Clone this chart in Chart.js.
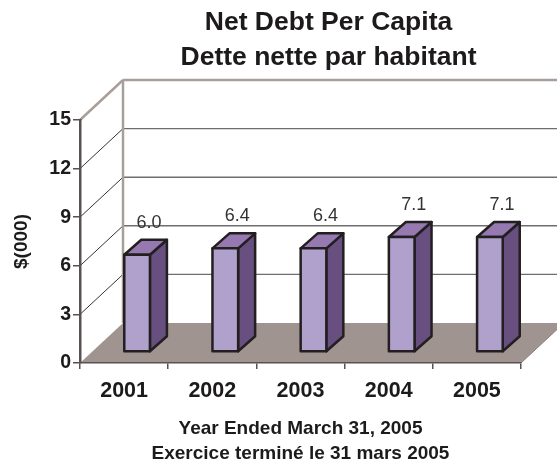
<!DOCTYPE html>
<html lang="en">

<head>
    <meta charset="UTF-8">
    <title>Net Debt Per Capita</title>
    <script src="https://cdn.jsdelivr.net/npm/chart.js"></script>
    <style>
        body {
            margin: 0;
            background: #fff;
        }

        canvas {
            display: block;
        }
    </style>
</head>

<body>
    <canvas id="debtChart" width="557" height="464"></canvas>

    <script>
        const years = ['2001', '2002', '2003', '2004', '2005'];
        const netDebt = [6.0, 6.4, 6.4, 7.1, 7.1];
        const titleLines = ['Net Debt Per Capita', 'Dette nette par habitant'];
        const xTitleLines = ['Year Ended March 31, 2005', 'Exercice terminé le 31 mars 2005'];

        const FONT = '"Liberation Sans", Arial, sans-serif';
        const EDGE = '#231f20';

        // Depth of the box behind the axes, of the bar bodies, and how far
        // the bars sit inside the box
        const wallDepth = { x: 43, y: -40 };
        const barDepth = { x: 17, y: -15 };
        const barInset = { x: 13, y: -11 };

        function polygon(ctx, points, fill, stroke) {
            ctx.beginPath();
            points.forEach(([x, y], i) => i ? ctx.lineTo(x, y) : ctx.moveTo(x, y));
            ctx.closePath();
            ctx.fillStyle = fill;
            ctx.fill();
            if (stroke) {
                ctx.strokeStyle = stroke;
                ctx.lineWidth = 2.5;
                ctx.lineJoin = 'round';
                ctx.stroke();
            }
        }

        function line(ctx, x1, y1, x2, y2, color, width) {
            ctx.beginPath();
            ctx.moveTo(x1, y1);
            ctx.lineTo(x2, y2);
            ctx.strokeStyle = color;
            ctx.lineWidth = width;
            ctx.stroke();
        }

        // Floor, back wall and the gridlines that run around the side wall
        const box3d = {
            id: 'box3d',
            afterLayout(chart) {
                // Title sits over the box, right of the canvas centre
                chart.titleBlock.left += 68;
                chart.titleBlock.right += 68;
            },
            beforeDraw(chart) {
                const { ctx, scales: { x, y } } = chart;
                const left = x.left, right = x.right;
                const dx = wallDepth.x, dy = wallDepth.y;
                const y0 = y.getPixelForValue(0);
                const yTop = y.getPixelForValue(15);

                ctx.save();
                polygon(ctx, [[left, y0], [left + dx, y0 + dy], [right + dx, y0 + dy], [right, y0]], '#a09490');

                y.ticks.forEach(t => {
                    if (t.value === 0 || t.value === 15) return;
                    const py = y.getPixelForValue(t.value);
                    line(ctx, left, py, left + dx, py + dy, '#333', 1);
                    line(ctx, left + dx, py + dy, right + dx, py + dy, '#6e6e6e', 1.4);
                });

                // Top and rear edges of the box
                line(ctx, left, yTop, left + dx, yTop + dy, '#a89e9a', 2.5);
                line(ctx, left + dx, yTop + dy, right + dx, yTop + dy, '#a89e9a', 2.5);
                line(ctx, left + dx, yTop + dy, left + dx, y0 + dy, '#a89e9a', 2.5);
                line(ctx, right, y0, right + dx, y0 + dy, '#8a807c', 1);
                ctx.restore();
            },
            beforeDatasetsDraw(chart) {
                chart.ctx.save();
                chart.ctx.translate(barInset.x, barInset.y);
            },
            afterDatasetsDraw(chart) {
                const ctx = chart.ctx;
                const dx = barDepth.x, dy = barDepth.y;
                chart.getDatasetMeta(0).data.forEach((bar, i) => {
                    const l = bar.x - bar.width / 2;
                    const r = bar.x + bar.width / 2;
                    const top = bar.y;
                    const bottom = bar.base;

                    polygon(ctx, [[r, top], [r + dx, top + dy], [r + dx, bottom + dy], [r, bottom]], '#674f80', EDGE);
                    polygon(ctx, [[l, top], [l + dx, top + dy], [r + dx, top + dy], [r, top]], '#9679b0', EDGE);
                    polygon(ctx, [[l, top], [r, top], [r, bottom], [l, bottom]], '#b0a0cc', EDGE);

                    ctx.fillStyle = '#333';
                    ctx.font = '18px ' + FONT;
                    ctx.textAlign = 'center';
                    ctx.textBaseline = 'middle';
                    ctx.fillText(netDebt[i].toFixed(1), bar.x + 12, bar.y - 32);
                });
                ctx.restore();
            }
        };

        new Chart(document.getElementById('debtChart').getContext('2d'), {
            type: 'bar',
            plugins: [box3d],
            data: {
                labels: years,
                datasets: [{
                    data: netDebt,
                    backgroundColor: '#b0a0cc',
                    borderWidth: 0,
                    barPercentage: 0.291,
                    categoryPercentage: 1,
                    clip: false
                }]
            },
            options: {
                responsive: false,
                animation: false,
                layout: { padding: { right: 36 } },
                plugins: {
                    legend: { display: false },
                    tooltip: { enabled: false },
                    title: {
                        display: true,
                        text: titleLines,
                        color: '#1c1a1a',
                        font: { family: FONT, size: 26.5, weight: 'bold', lineHeight: 35 / 26.5 },
                        padding: { top: 5, bottom: 45 }
                    }
                },
                scales: {
                    x: {
                        afterFit: scale => { scale.height = 101; },
                        border: { color: '#5a5050', width: 1.5 },
                        grid: { drawOnChartArea: false, color: '#5a5050', lineWidth: 1.5, tickLength: 6 },
                        ticks: {
                            color: '#1c1a1a',
                            padding: 9,
                            maxRotation: 0,
                            font: { family: FONT, size: 21.5, weight: 'bold' }
                        },
                        title: {
                            display: true,
                            text: xTitleLines,
                            color: '#1c1a1a',
                            font: { family: FONT, size: 19, weight: 'bold', lineHeight: 25 / 19 },
                            padding: { top: 14, bottom: -2 }
                        }
                    },
                    y: {
                        min: 0,
                        max: 15,
                        afterFit: scale => { scale.width = 80; },
                        border: { color: '#5a5050', width: 2.5 },
                        grid: { drawOnChartArea: false, color: '#5a5050', lineWidth: 1.5, tickLength: 7 },
                        ticks: {
                            stepSize: 3,
                            color: '#1c1a1a',
                            padding: 2,
                            font: { family: FONT, size: 19.5, weight: 'bold' }
                        },
                        title: {
                            display: true,
                            text: '$(000)',
                            color: '#1c1a1a',
                            font: { family: FONT, size: 19, weight: 'bold' },
                            padding: { top: 10, bottom: 0 }
                        }
                    }
                }
            }
        });
    </script>
</body>

</html>
